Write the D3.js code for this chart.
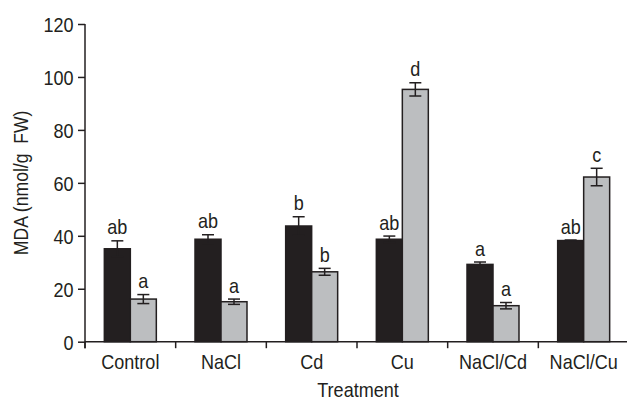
<!DOCTYPE html>
<html>
<head>
<meta charset="utf-8">
<script src="https://cdn.jsdelivr.net/npm/d3@7/dist/d3.min.js"></script>
<style>
  html, body { margin: 0; padding: 0; background: #fff; }
  svg { display: block; }
  text { font-family: "Liberation Sans", Arial, sans-serif; fill: #231f20; }
</style>
</head>
<body>
<svg id="chart" width="627" height="400"></svg>
<script>
// MDA content by treatment, two series per treatment (mean, SE, significance letter)
const categories = ["Control", "NaCl", "Cd", "Cu", "NaCl/Cd", "NaCl/Cu"];
const series = ["s1", "s2"];
const values1 = [35.1, 38.7, 43.7, 38.7, 29.2, 38.2];
const errors1 = [3.0, 1.7, 3.5, 1.2, 0.9, 0.2];
const letters1 = ["ab", "ab", "b", "ab", "a", "ab"];
const values2 = [16.1, 15.1, 26.4, 95.3, 13.6, 62.2];
const errors2 = [1.7, 1.0, 1.3, 2.5, 1.2, 3.3];
const letters2 = ["a", "a", "b", "d", "a", "c"];
const yTicks = [0, 20, 40, 60, 80, 100, 120];

const fills = { s1: "#231f20", s2: "#bcbec0" };
const ink = "#231f20";
const fontSize = 20.5;
const squeeze = 0.88;   // condensed look for the sans face

const svg = d3.select("#chart");
const mLeft = 85, mRight = 629, mTop = 24, mBottom = 341.7;

const x = d3.scaleBand().domain(categories).range([mLeft, mRight]).paddingInner(0).paddingOuter(0);
const x1 = d3.scaleBand().domain(series).range([0, x.bandwidth()]).paddingInner(0).paddingOuter(0.744);
const y = d3.scaleLinear().domain([0, 120]).range([mBottom, mTop]);

const data = [];
categories.forEach((c, i) => {
  data.push({ cat: c, s: "s1", v: values1[i], e: errors1[i], l: letters1[i] });
  data.push({ cat: c, s: "s2", v: values2[i], e: errors2[i], l: letters2[i] });
});

// places a horizontally condensed text at (px, py)
function condensed(sel, px, py) {
  sel.attr("transform", `translate(${px},${py}) scale(${squeeze},1)`);
}

// bars
svg.append("g").selectAll("rect").data(data).join("rect")
  .attr("x", d => x(d.cat) + x1(d.s))
  .attr("y", d => y(d.v))
  .attr("width", x1.bandwidth())
  .attr("height", d => y(0) - y(d.v))
  .attr("fill", d => fills[d.s])
  .attr("stroke", ink)
  .attr("stroke-width", 1.5);

// error bars
const eb = svg.append("g").attr("stroke", ink).attr("stroke-width", 1.5);
const cap = 6;
data.forEach(d => {
  const cx = x(d.cat) + x1(d.s) + x1.bandwidth() / 2;
  const yt = y(d.v + d.e), yb = y(d.v - d.e);
  eb.append("line").attr("x1", cx).attr("x2", cx).attr("y1", yt).attr("y2", yb);
  eb.append("line").attr("x1", cx - cap).attr("x2", cx + cap).attr("y1", yt).attr("y2", yt);
  eb.append("line").attr("x1", cx - cap).attr("x2", cx + cap).attr("y1", yb).attr("y2", yb);
});

// significance letters
svg.append("g").selectAll("text").data(data).join("text")
  .attr("text-anchor", "middle")
  .attr("font-size", fontSize)
  .each(function (d) {
    condensed(d3.select(this), x(d.cat) + x1(d.s) + x1.bandwidth() / 2, y(d.v + d.e) - 6.5);
  })
  .text(d => d.l);

// y axis
const yAxis = svg.append("g").attr("transform", `translate(${mLeft},0)`)
  .call(d3.axisLeft(y).tickValues(yTicks).tickSize(7).tickPadding(6).tickSizeOuter(0));
yAxis.select(".domain").remove();
yAxis.selectAll(".tick line").attr("stroke", ink).attr("stroke-width", 1.5);
yAxis.selectAll(".tick text").attr("font-size", fontSize).attr("fill", ink).attr("dy", "0.36em")
  .attr("transform", `scale(${squeeze},1)`);

// x axis: boundary ticks and centred labels
const xAxis = svg.append("g").attr("transform", `translate(0,${mBottom})`)
  .call(d3.axisBottom(x).tickSize(0).tickPadding(13).tickSizeOuter(0));
xAxis.select(".domain").remove();
xAxis.selectAll(".tick text").attr("font-size", fontSize).attr("fill", ink)
  .attr("transform", `scale(${squeeze},1)`);
svg.append("g").selectAll("line").data(categories).join("line")
  .attr("x1", d => x(d)).attr("x2", d => x(d))
  .attr("y1", mBottom).attr("y2", mBottom + 6.5)
  .attr("stroke", ink).attr("stroke-width", 1.5);

// axis lines
svg.append("line").attr("x1", mLeft).attr("x2", mLeft).attr("y1", y(120)).attr("y2", mBottom + 6.5)
  .attr("stroke", ink).attr("stroke-width", 1.5);
svg.append("line").attr("x1", mLeft).attr("x2", mRight).attr("y1", mBottom).attr("y2", mBottom)
  .attr("stroke", ink).attr("stroke-width", 1.5);

// axis titles
svg.append("text")
  .attr("text-anchor", "middle").attr("font-size", fontSize)
  .call(condensed, (mLeft + mRight) / 2 + 1, 396.5)
  .text("Treatment");
svg.append("text")
  .attr("transform", `translate(27.5,${(mTop + mBottom) / 2}) rotate(-90) scale(${squeeze},1)`)
  .attr("text-anchor", "middle").attr("font-size", 20)
  .attr("xml:space", "preserve").style("white-space", "pre")
  .text("MDA (nmol/g  FW)");
</script>
</body>
</html>
